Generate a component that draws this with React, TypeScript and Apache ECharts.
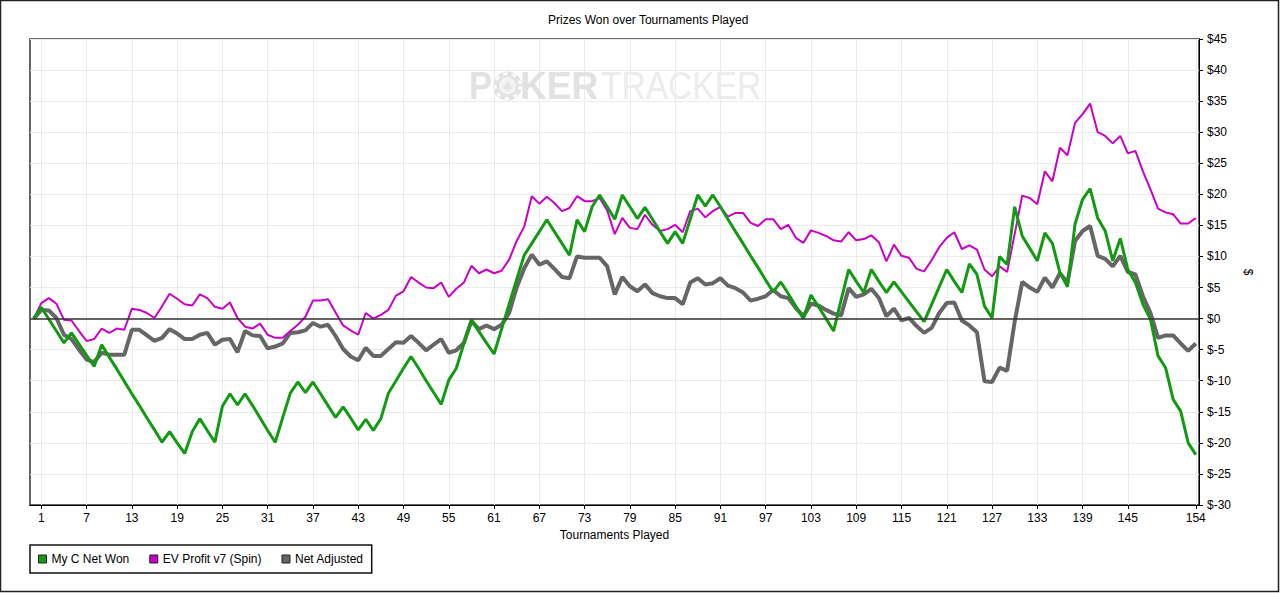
import React, { useEffect, useRef } from 'react';
import * as echarts from 'echarts';

// Tournament numbers (0 = starting point) and the ticks shown on the x axis
const tournaments = Array.from({ length: 155 }, (_, i) => i);
const xTicks = [1, 7, 13, 19, 25, 31, 37, 43, 49, 55, 61, 67, 73, 79, 85, 91, 97, 103, 109, 115, 121, 127, 133, 139, 145, 154];

const seriesNames = ['My C Net Won', 'EV Profit v7 (Spin)', 'Net Adjusted'];

const netWon = [
  0, 1.8, -0.1, -2, -3.9, -2.3, -4.1, -5.9, -7.7, -4.2,
  -6.2, -8.1, -10.1, -12.1, -14, -16, -17.9, -19.9, -18.2, -20,
  -21.7, -18.2, -16.1, -18, -19.9, -14.1, -12.1, -13.9, -12.1, -14,
  -16, -18, -19.9, -15.9, -12, -10.2, -11.9, -10.2, -12.1, -14,
  -15.9, -14.2, -16, -17.9, -16.2, -18, -16.1, -12, -10, -8,
  -6.1, -8, -10, -11.9, -13.8, -9.9, -8, -4, -0.2, -2.1,
  -3.9, -5.7, -1.7, 2.3, 6.3, 10.2, 12.1, 14, 15.9, 14,
  12.1, 10.2, 15.9, 14, 18, 19.9, 18, 16, 19.9, 18,
  16.1, 17.9, 16, 14, 12.1, 14, 12.1, 16, 19.9, 18.1,
  19.9, 18, 16, 14, 12.1, 10.1, 8.2, 6.2, 4.3, 5.9,
  4, 2, 0, 3.8, 1.9, 0, -2, 3, 7.9, 6,
  4.2, 7.9, 6, 4.2, 5.9, 4.3, 2.7, 1.1, -0.5, 2.3,
  5.1, 7.9, 6, 4.2, 8.8, 7.1, 2, 0.1, 10, 8.7,
  18, 13.3, 11.3, 9.3, 13.8, 12.1, 7.4, 5.1, 15.2, 19.2,
  20.9, 16.2, 14.1, 9.3, 12.9, 7.9, 5.8, 2.3, -0.1, -6,
  -7.9, -13, -14.9, -20, -21.9,
];

const evProfit = [
  0, 2.5, 3.3, 2.4, -0.2, -0.3, -2, -3.6, -3.3, -1.6,
  -2.3, -1.6, -1.8, 1.6, 1.4, 0.9, 0.1, 2, 4, 3.2,
  2.3, 2.1, 3.9, 3.3, 1.9, 1.6, 2.6, 0.1, -1.3, -1.6,
  -0.8, -2.6, -3.1, -3.1, -2, -1, 0.3, 2.9, 2.9, 3.1,
  1, -1.1, -1.9, -2.6, 0.9, 0, 0.6, 1.4, 3.7, 4.4,
  6.7, 5.8, 5, 4.9, 5.8, 3.5, 4.8, 5.8, 8.5, 7.3,
  7.9, 7.3, 7.7, 9.5, 12.5, 14.8, 19.7, 18.5, 19.6, 18.6,
  17.3, 17.8, 19.7, 18.9, 18.9, 19.4, 17.4, 13.6, 16.2, 14.6,
  14.4, 16.7, 15.1, 14.1, 14.4, 15.1, 13.9, 17.3, 17.7, 16.3,
  17.3, 18, 16.4, 17, 17, 15.4, 14.9, 16, 16, 14.4,
  15.1, 13, 12.2, 14.2, 13.8, 13.3, 12.6, 12.4, 13.9, 12.6,
  12.8, 13.4, 12.3, 9.2, 11.9, 10.1, 9.8, 8, 7.6, 9.4,
  11.5, 13, 13.9, 11.2, 11.8, 11.1, 7.9, 6.8, 8.4, 7.5,
  13.6, 19.8, 19.4, 18.4, 23.7, 22.1, 27.5, 26.3, 31.5, 32.9,
  34.6, 30, 29.4, 28.2, 29.4, 26.6, 27, 23.7, 20.8, 17.7,
  17.1, 16.8, 15.3, 15.3, 16.2,
];

const netAdjusted = [
  0, 1.4, 1.3, 0.1, -2.6, -3.3, -5, -6.6, -7, -5.5,
  -5.8, -5.8, -5.8, -1.8, -1.8, -2.7, -3.6, -3.1, -1.7, -2.4,
  -3.3, -3.3, -2.6, -2.3, -4.2, -3.4, -3.3, -5.4, -2, -2.7,
  -2.8, -4.8, -4.5, -4, -2.3, -2.2, -1.9, -0.7, -1.3, -1,
  -2.8, -4.9, -6.1, -6.7, -4.7, -6, -6, -4.9, -3.8, -3.9,
  -2.8, -3.9, -5.1, -4.2, -3.3, -5.5, -5.1, -3.9, -0.4, -1.7,
  -1.1, -1.7, -1, 0.9, 5, 8.1, 10.3, 8.7, 9.2, 8,
  6.7, 6.5, 10, 9.8, 9.8, 9.8, 8.4, 3.9, 6.7, 5.2,
  4.4, 5.5, 4.1, 3.6, 3.3, 3.3, 2.3, 5.8, 6.5, 5.5,
  5.7, 6.5, 5.3, 4.9, 4.2, 2.9, 3.2, 3.6, 4.6, 3.6,
  3.3, 1.7, 0.4, 2.4, 2.1, 1.4, 0.8, 0.5, 4.9, 3.5,
  3.9, 4.8, 3.3, 0.4, 1.6, -0.3, 0.1, -1.2, -2.3, -1.5,
  0.9, 2.5, 2.6, -0.3, -1.1, -2.2, -10.1, -10.2, -7.9, -8.4,
  -0.5, 5.9, 5, 4.3, 6.6, 5, 7.3, 5.8, 12.5, 14.1,
  14.9, 10.1, 9.6, 8.4, 10.1, 7.5, 7.1, 3.6, 0.9, -3.1,
  -2.7, -2.7, -4, -5.2, -4,
];

const GREEN = '#129a12';
const MAGENTA = '#c800c8';
const GREY = '#666666';
const FONT = 'Arial, "Liberation Sans", sans-serif';

function pairs(values: number[]) {
  return values.map((v, i) => [tournaments[i], v]);
}

export default function App() {
  const ref = useRef<HTMLDivElement>(null);

  useEffect(() => {
    if (!ref.current) return;
    const chart = echarts.init(ref.current, null, { renderer: 'svg' });
    const wmGrey = '#e2e2e2';
    chart.setOption({
      animation: false,
      backgroundColor: '#ffffff',
      textStyle: { fontFamily: FONT },
      title: {
        text: 'Prizes Won over Tournaments Played',
        left: 548,
        top: 14,
        padding: 0,
        textStyle: { fontSize: 12, fontWeight: 'normal', color: '#000', fontFamily: FONT },
      },
      legend: {
        data: seriesNames,
        left: 30,
        top: 545,
        icon: 'rect',
        itemWidth: 8,
        itemHeight: 8,
        itemGap: 20,
        padding: [8, 8, 8, 8],
        borderColor: '#111',
        borderWidth: 1.5,
        backgroundColor: '#fff',
        selectedMode: false,
        textStyle: { fontSize: 12, color: '#000', fontFamily: FONT },
        itemStyle: { borderColor: '#222', borderWidth: 1 },
      },
      grid: {
        left: 30,
        top: 39,
        width: 1169,
        height: 466,
        show: true,
        borderColor: '#333',
        borderWidth: 1.5,
        backgroundColor: 'transparent',
      },
      xAxis: {
        type: 'value',
        min: -0.5,
        max: 154.43,
        name: 'Tournaments Played',
        nameLocation: 'middle',
        nameGap: 24,
        nameTextStyle: { fontSize: 12, color: '#000', fontFamily: FONT },
        axisLine: { show: true, onZero: false, lineStyle: { color: '#000', width: 1 } },
        axisTick: { show: true, length: 4, customValues: xTicks, lineStyle: { color: '#000' } },
        axisLabel: { customValues: xTicks, fontSize: 12, color: '#000', margin: 7, fontFamily: FONT },
        splitLine: { show: true, lineStyle: { color: '#ebebeb', width: 1 } },
      },
      yAxis: {
        type: 'value',
        position: 'right',
        min: -30,
        max: 45,
        interval: 5,
        name: '$',
        nameLocation: 'middle',
        nameGap: 35,
        nameRotate: -90,
        nameTextStyle: { fontSize: 12, color: '#000', fontFamily: FONT },
        axisLine: { show: true, onZero: false, lineStyle: { color: '#000', width: 1 } },
        axisTick: { show: true, length: 4, lineStyle: { color: '#000' } },
        axisLabel: {
          formatter: (v: number) => '$' + v,
          fontSize: 12,
          color: '#000',
          margin: 8,
          fontFamily: FONT,
        },
        splitLine: { show: true, lineStyle: { color: '#ebebeb', width: 1 } },
      },
      graphic: [
        {
          type: 'rect',
          silent: true,
          z: 100,
          shape: { x: 0.5, y: 0.5, width: 1278, height: 591 },
          style: { fill: 'none', stroke: '#222', lineWidth: 1.5 },
        },
        {
          type: 'text',
          silent: true,
          z: 1,
          x: 469,
          y: 86,
          scaleX: 0.88,
          style: { text: 'P', fontSize: 39, fontWeight: 'bold', fontFamily: FONT, fill: wmGrey, verticalAlign: 'middle' },
        },
        {
          type: 'circle',
          silent: true,
          z: 1,
          shape: { cx: 507.5, cy: 86, r: 14.5 },
          style: { fill: wmGrey },
        },
        {
          type: 'circle',
          silent: true,
          z: 1,
          shape: { cx: 507.5, cy: 86, r: 12.5 },
          style: { fill: 'none', stroke: '#fafafa', lineWidth: 3, lineDash: [4, 5] },
        },
        {
          type: 'circle',
          silent: true,
          z: 1,
          shape: { cx: 507.5, cy: 86, r: 8.5 },
          style: { fill: '#f3f3f3' },
        },
        {
          type: 'text',
          silent: true,
          z: 1,
          x: 507.5,
          y: 86,
          style: { text: '\u2660', fontSize: 13, fontFamily: '"DejaVu Sans", sans-serif', fill: wmGrey, align: 'center', verticalAlign: 'middle' },
        },
        {
          type: 'text',
          silent: true,
          z: 1,
          x: 520,
          y: 86,
          scaleX: 0.95,
          style: { text: 'KER', fontSize: 39, fontWeight: 'bold', fontFamily: FONT, fill: wmGrey, verticalAlign: 'middle' },
        },
        {
          type: 'text',
          silent: true,
          z: 1,
          x: 601,
          y: 86,
          scaleX: 0.86,
          style: { text: 'TRACKER', fontSize: 39, fontWeight: 'normal', fontFamily: FONT, fill: '#ececec', verticalAlign: 'middle' },
        },
      ],
      series: [
        {
          name: seriesNames[2],
          type: 'line',
          data: pairs(netAdjusted),
          symbol: 'none',
          showSymbol: false,
          z: 2,
          lineStyle: { width: 4, color: GREY },
          itemStyle: { color: GREY },
          markLine: {
            silent: true,
            symbol: 'none',
            label: { show: false },
            lineStyle: { color: '#333', width: 1.5, type: 'solid' },
            data: [{ yAxis: 0 }],
          },
        },
        {
          name: seriesNames[1],
          type: 'line',
          data: pairs(evProfit),
          symbol: 'none',
          showSymbol: false,
          z: 3,
          lineStyle: { width: 2, color: MAGENTA },
          itemStyle: { color: MAGENTA },
        },
        {
          name: seriesNames[0],
          type: 'line',
          data: pairs(netWon),
          symbol: 'none',
          showSymbol: false,
          z: 4,
          lineStyle: { width: 3, color: GREEN },
          itemStyle: { color: GREEN },
        },
      ],
    });
    return () => chart.dispose();
  }, []);

  return (
    <div
      ref={ref}
      style={{ position: 'fixed', left: 0, top: 0, width: 1280, height: 593, background: '#fff' }}
    />
  );
}
